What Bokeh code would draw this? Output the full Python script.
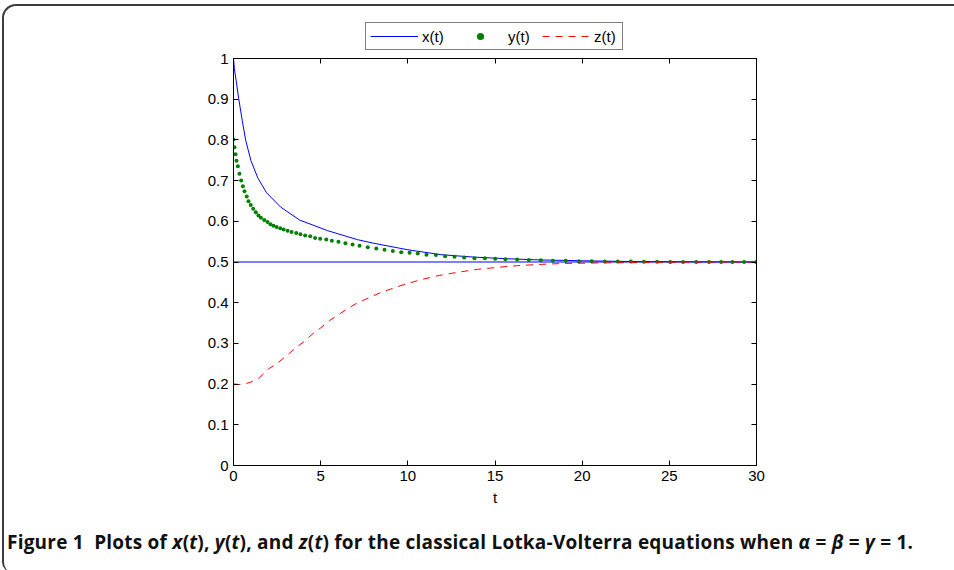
from bokeh.plotting import figure
from bokeh.models import (Legend, LegendItem, LinearAxis, FixedTicker,
                          CustomJSTickFormatter, Range1d, Div)
from bokeh.layouts import column
from bokeh.embed import file_html
from bokeh.resources import INLINE

# ---------------- data ----------------
x_t = [0.0, 0.05, 0.15, 0.3, 0.5, 0.7, 1.0, 1.4, 1.9, 2.7, 3.8, 5.4, 7.1, 8.05,
       10.0, 11.9, 13.8, 15.7, 17.6, 20.0, 23.0, 26.0, 30.0, 0.0]
x_v = [1.0, 0.975, 0.946, 0.901, 0.848, 0.799, 0.749, 0.706, 0.670, 0.635, 0.603,
       0.577, 0.555, 0.546, 0.530, 0.518, 0.512, 0.508, 0.505, 0.503, 0.501,
       0.5005, 0.5, 0.5]

y_t = [0.0, 0.057, 0.115, 0.17, 0.25, 0.34, 0.44, 0.54, 0.63, 0.76, 0.86, 0.99,
       1.13, 1.28, 1.43, 1.57, 1.76, 1.95, 2.12, 2.29, 2.47, 2.68, 2.87, 3.10,
       3.33, 3.60, 3.84, 4.11, 4.40, 4.68, 4.97, 5.32, 5.64, 6.02, 6.42, 6.83,
       7.23, 7.70, 8.19, 8.66, 9.14, 9.62, 10.10, 10.57, 11.07, 11.61, 12.14,
       12.68, 13.23, 13.82, 14.42, 15.01, 15.60, 16.27, 16.94, 17.63, 18.32,
       19.06, 19.81, 20.55, 21.30, 22.04, 22.79, 23.54, 24.30, 25.05, 25.79,
       26.54, 27.28, 27.97, 28.62, 29.29, 29.98]
y_v = [0.801, 0.782, 0.765, 0.749, 0.735, 0.717, 0.700, 0.686, 0.674, 0.661,
       0.649, 0.640, 0.631, 0.622, 0.614, 0.609, 0.603, 0.598, 0.593, 0.589,
       0.586, 0.583, 0.580, 0.577, 0.574, 0.571, 0.568, 0.565, 0.563, 0.559,
       0.557, 0.555, 0.552, 0.550, 0.546, 0.543, 0.540, 0.536, 0.533, 0.530,
       0.527, 0.524, 0.523, 0.521, 0.518, 0.517, 0.514, 0.513, 0.511, 0.509,
       0.509, 0.508, 0.507, 0.506, 0.505, 0.504, 0.503, 0.503, 0.502, 0.502,
       0.501, 0.501, 0.501, 0.5005, 0.5005, 0.5, 0.5, 0.5, 0.5, 0.5, 0.5, 0.5, 0.5]

z_t = [0.0, 0.3, 0.6, 1.0, 1.5, 2.0, 2.5, 3.0, 3.5, 4.0, 4.5, 5.0, 5.5, 6.0,
       6.5, 7.0, 7.5, 8.5, 9.6, 10.7, 11.8, 12.9, 14.0, 15.2, 16.3, 17.5, 19.0,
       21.5, 24.0, 27.0, 30.0]
z_v = [0.2007, 0.199, 0.200, 0.205, 0.216, 0.237, 0.251, 0.268, 0.287, 0.303,
       0.322, 0.338, 0.356, 0.370, 0.384, 0.397, 0.407, 0.426, 0.442, 0.456,
       0.467, 0.475, 0.482, 0.487, 0.491, 0.494, 0.4965, 0.498, 0.499, 0.4997, 0.5]

x_ticks = [0, 5, 10, 15, 20, 25, 30]
y_ticks = [0, 0.1, 0.2, 0.3, 0.4, 0.5, 0.6, 0.7, 0.8, 0.9, 1.0]
series_labels = ["x(t)", "y(t)", "z(t)"]
x_label = "t"

FONT = "Liberation Sans"
FS = "15px"
BLUE, GREEN, RED = "#0000ff", "#008000", "#ff0000"

# ---------------- main plot ----------------
p = figure(width=940, height=474,
           x_range=Range1d(0, 30), y_range=Range1d(0, 1),
           min_border_left=229, min_border_right=188,
           min_border_top=16, min_border_bottom=51,
           output_backend="svg", toolbar_location=None,
           styles={"margin-top": "-10px"})
p.xgrid.visible = False
p.ygrid.visible = False
p.outline_line_color = "black"
p.outline_line_alpha = 1.0
p.border_fill_color = None
p.background_fill_color = "white"

p.line(x_t, x_v, line_color=BLUE, line_width=1)
p.scatter(y_t, y_v, size=4, fill_color=GREEN, line_color=None)
p.line(z_t, z_v, line_color=RED, line_width=1, line_dash="7 6")

p.xaxis.ticker = FixedTicker(ticks=x_ticks)
p.yaxis.ticker = FixedTicker(ticks=y_ticks)
p.yaxis.formatter = CustomJSTickFormatter(code="return Number(tick.toFixed(1)).toString();")
p.xaxis.axis_label = x_label

def style_axis(ax):
    ax.major_tick_in = 5
    ax.major_tick_out = 0
    ax.minor_tick_in = 0
    ax.minor_tick_out = 0
    ax.axis_line_color = "black"
    ax.major_tick_line_color = "black"
    ax.major_label_text_font = FONT
    ax.major_label_text_font_size = FS
    ax.major_label_text_color = "black"
    ax.axis_label_text_font = FONT
    ax.axis_label_text_font_size = FS
    ax.axis_label_text_font_style = "normal"
    ax.axis_label_text_color = "black"
    ax.major_label_standoff = 5
    ax.axis_label_standoff = 5

for ax in p.xaxis + p.yaxis:
    style_axis(ax)

top = LinearAxis(ticker=FixedTicker(ticks=x_ticks))
right = LinearAxis(ticker=FixedTicker(ticks=y_ticks))
for ax in (top, right):
    style_axis(ax)
    ax.major_label_text_font_size = "1px"
    ax.major_label_text_color = None
    ax.major_label_standoff = 0
p.add_layout(top, "above")
p.add_layout(right, "right")

# ---------------- legend strip (same series, styled identically) ----------------
pl = figure(width=940, height=46, x_range=Range1d(-20, -10), y_range=Range1d(-20, -10),
            min_border_left=0, min_border_right=0, min_border_top=0, min_border_bottom=0,
            output_backend="svg", toolbar_location=None)
pl.axis.visible = False
pl.xgrid.visible = False
pl.ygrid.visible = False
pl.outline_line_color = None
pl.border_fill_color = None
pl.background_fill_color = None
lx = pl.line(x_t, x_v, line_color=BLUE, line_width=1)
ly = pl.scatter(y_t, y_v, size=4, fill_color=GREEN, line_color=None)
lz = pl.line(z_t, z_v, line_color=RED, line_width=1, line_dash="7 6")

legend = Legend(items=[LegendItem(label=series_labels[0], renderers=[lx]),
                       LegendItem(label=series_labels[1], renderers=[ly]),
                       LegendItem(label=series_labels[2], renderers=[lz])],
                orientation="horizontal", location=(132, 2),
                glyph_width=48, glyph_height=18, label_height=18, label_width=24,
                label_standoff=4, spacing=10, padding=4, margin=0,
                border_line_color="black", border_line_width=1,
                label_text_font=FONT, label_text_font_size=FS,
                label_text_color="black", background_fill_color="white",
                background_fill_alpha=1.0)
pl.add_layout(legend)

caption = Div(
    text=('<div style="padding-top:10px;margin-left:-2px;font-family:\'Open Sans\';'
          'font-weight:bold;font-size:19px;letter-spacing:0.22px;line-height:22px;'
          'color:#111;white-space:nowrap;">'
          'Figure 1&nbsp;&nbsp;Plots of <i>x</i>(<i>t</i>), <i>y</i>(<i>t</i>), and '
          '<i>z</i>(<i>t</i>) for the classical Lotka-Volterra equations when '
          '<i>&alpha;</i> = <i>&beta;</i> = <i>&gamma;</i> = 1.</div>'),
    width=940, height=46)

layout = column(pl, p, caption, styles={
    "border-top": "2px solid #3c3c3c",
    "border-left": "2px solid #3c3c3c",
    "border-top-left-radius": "14px",
    "border-bottom-left-radius": "10px",
    "margin-left": "2px",
    "margin-top": "4px",
})

open("out.html", "w").write(file_html(layout, INLINE))
